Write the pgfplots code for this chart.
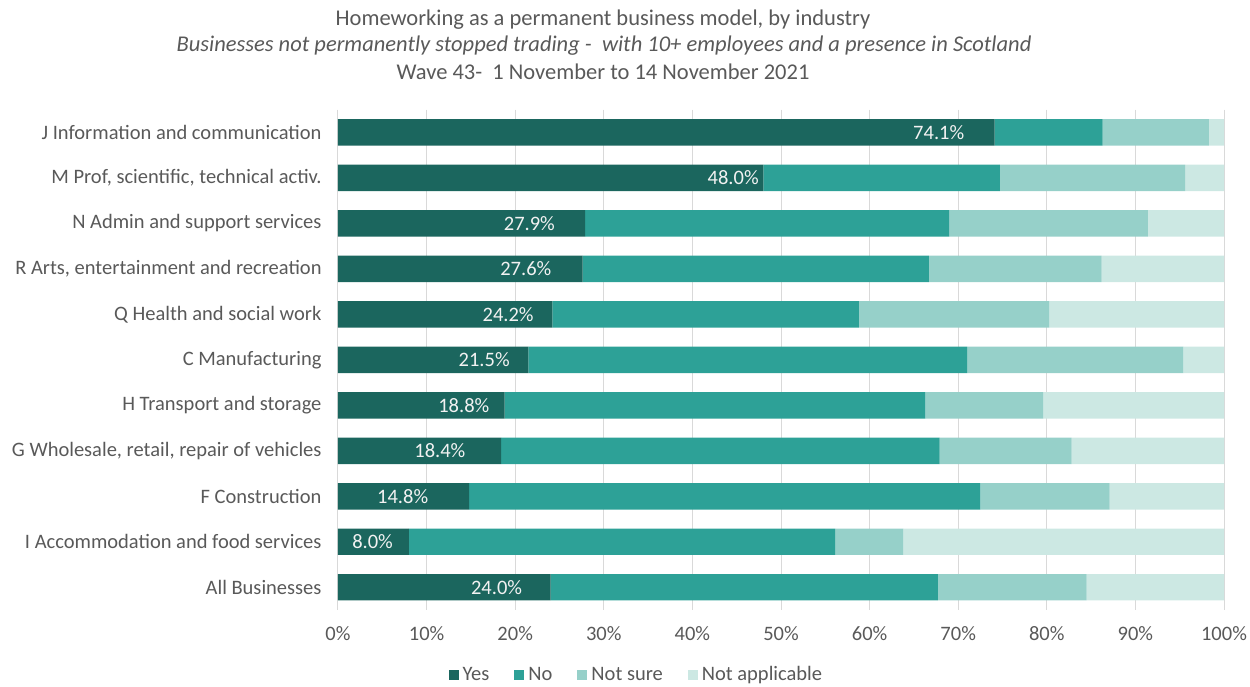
\documentclass[border=0pt]{standalone}
\usepackage{pgfplots}
\usepackage{pgfplotstable}
\pgfplotsset{compat=1.18}
\usepackage{fontspec}
\setmainfont{Carlito}
\definecolor{cyes}{RGB}{27,102,94}
\definecolor{cno}{RGB}{45,161,151}
\definecolor{cns}{RGB}{150,208,201}
\definecolor{cna}{RGB}{204,232,227}
\definecolor{txt}{RGB}{89,89,89}
\definecolor{gridc}{RGB}{217,217,217}
\pgfplotstableread{
idx yes no ns na labx
0 74.1 12.2 12.0 1.7 67.8
1 48.0 26.7 20.9 4.4 44.6
2 27.9 41.1 22.4 8.6 21.6
3 27.6 39.1 19.5 13.8 21.2
4 24.2 34.6 21.5 19.7 19.2
5 21.5 49.5 24.4 4.6 16.5
6 18.8 47.5 13.3 20.4 14.2
7 18.4 49.5 14.9 17.2 11.5
8 14.8 57.7 14.6 12.9 7.3
9 8.0 48.1 7.7 36.2 3.9
10 24.0 43.7 16.8 15.5 17.9
}\datatable
\begin{document}
\begin{tikzpicture}
\useasboundingbox (0,0) rectangle (1250pt,686pt);
\node[text=txt, font=\fontsize{22.5}{26}\selectfont] at (603pt,666pt) {Homeworking as a permanent business model, by industry};
\node[text=txt, font=\fontsize{22.5}{26}\selectfont\itshape] at (604pt,640pt) {Businesses not permanently stopped trading -\ \ with 10+ employees and a presence in Scotland};
\node[text=txt, font=\fontsize{22.5}{26}\selectfont] at (603pt,614pt) {Wave 43-\ \ 1 November to 14 November 2021};
\begin{axis}[
  at={(338pt,76pt)}, anchor=south west,
  width=886pt, height=500.3pt, scale only axis,
  xbar stacked, bar width=26.4pt,
  xmin=0, xmax=100, ymin=-0.5, ymax=10.5,
  y dir=reverse,
  axis line style={draw=none},
  major tick style={draw=none},
  xmajorgrids, grid style={gridc, line width=1pt},
  xtick={0,10,...,100},
  xticklabel={\pgfmathprintnumber{\tick}\%},
  x tick label style={/pgf/number format/assume math mode=true, yshift=-13pt},
  ytick={0,...,10},
  yticklabels={J Information and communication, {M Prof, scientific, technical activ.}, N Admin and support services, {R Arts, entertainment and recreation}, Q Health and social work, C Manufacturing, H Transport and storage, {G Wholesale, retail, repair of vehicles}, F Construction, I Accommodation and food services, All Businesses},
  y tick label style={xshift=-13pt},
  tick label style={text=txt, font=\fontsize{20.5}{24}\selectfont},
  legend columns=4,
  legend style={draw=none, at={(0.3357,-0.129)}, anchor=center,
    font=\fontsize{20.5}{24}\selectfont, text=txt,
    nodes={inner xsep=0pt},
    /tikz/every odd column/.append style={column sep=0pt},
    /tikz/every even column/.append style={column sep=25pt}},
  legend image code/.code={\fill[#1] (0pt,-5pt) rectangle (10pt,5pt); \path (14pt,0pt);},
]
\addplot[fill=cyes, draw=none] table[x=yes, y=idx] {\datatable};
\addplot[fill=cno, draw=none] table[x=no, y=idx] {\datatable};
\addplot[fill=cns, draw=none] table[x=ns, y=idx] {\datatable};
\addplot[fill=cna, draw=none] table[x=na, y=idx] {\datatable};
\legend{Yes, No, Not sure, Not applicable}
\end{axis}
\begin{axis}[
  at={(338pt,76pt)}, anchor=south west,
  width=886pt, height=500.3pt, scale only axis,
  xmin=0, xmax=100, ymin=-0.5, ymax=10.5,
  y dir=reverse, hide axis,
]
\addplot[only marks, mark=none, point meta=\thisrow{yes},
  nodes near coords={\pgfmathprintnumber[fixed,fixed zerofill,precision=1]{\pgfplotspointmeta}\%},
  nodes near coords align=center,
  every node near coord/.append style={anchor=center, text=white!95!black, font=\fontsize{20.5}{24}\selectfont, /pgf/number format/assume math mode=true}]
  table[x=labx, y=idx] {\datatable};
\end{axis}
\end{tikzpicture}
\end{document}
